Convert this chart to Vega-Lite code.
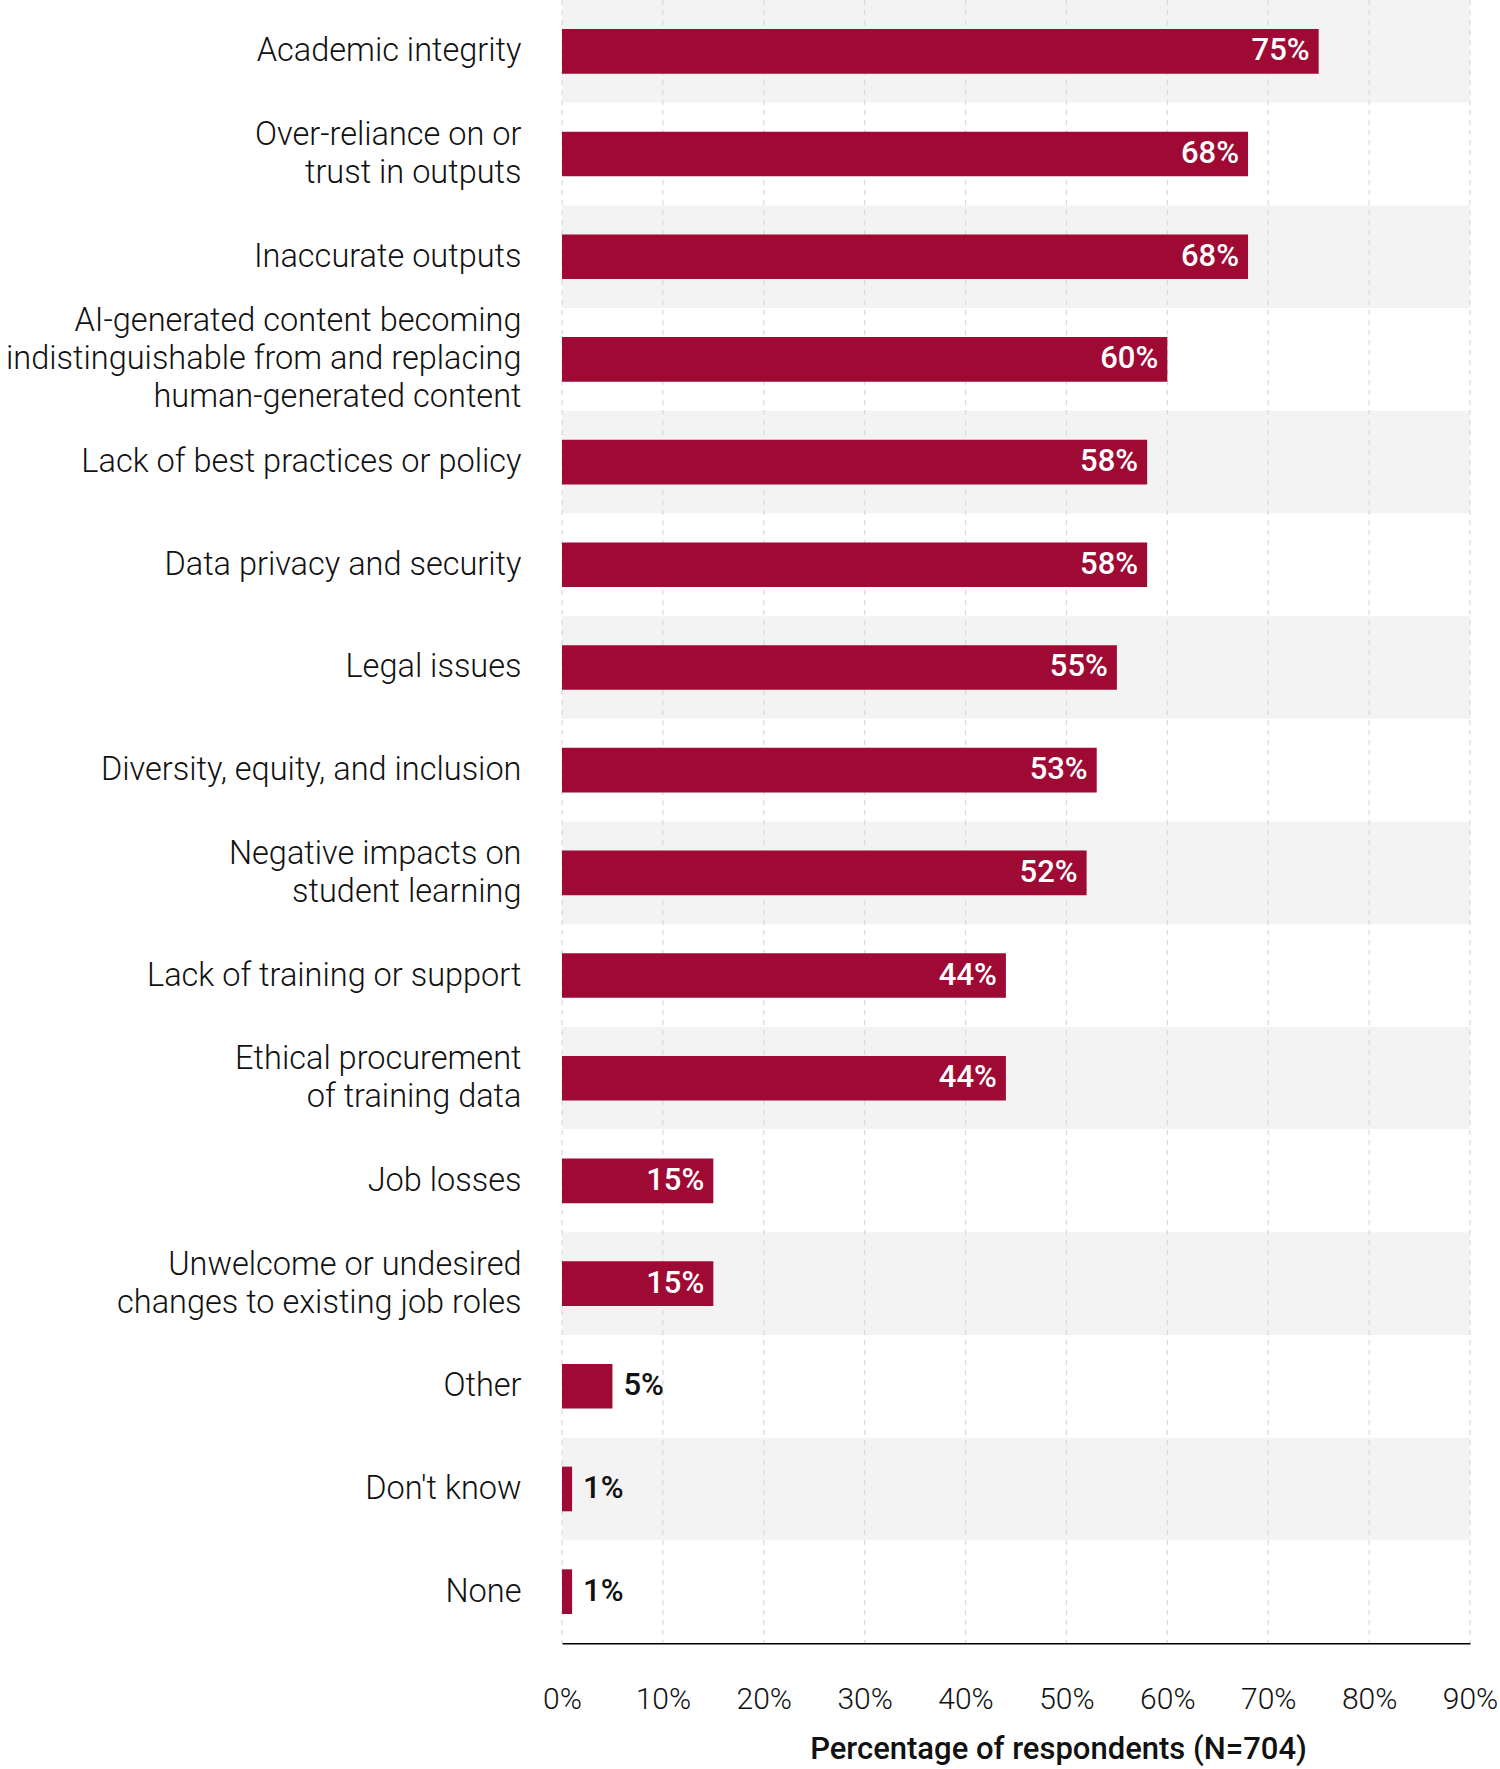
{
  "$schema": "https://vega.github.io/schema/vega-lite/v6.json",
  "autosize": {"type": "none"},
  "padding": {"left": 562, "top": 0, "right": 30, "bottom": 126},
  "width": 908,
  "height": 1643,
  "background": "white",
  "config": {"view": {"stroke": null}, "font": "Roboto"},
  "datasets": {
    "concerns": [
      {"concern": "Academic integrity", "pct": 75},
      {"concern": "Over-reliance on or|trust in outputs", "pct": 68},
      {"concern": "Inaccurate outputs", "pct": 68},
      {"concern": "AI-generated content becoming|indistinguishable from and replacing|human-generated content", "pct": 60},
      {"concern": "Lack of best practices or policy", "pct": 58},
      {"concern": "Data privacy and security", "pct": 58},
      {"concern": "Legal issues", "pct": 55},
      {"concern": "Diversity, equity, and inclusion", "pct": 53},
      {"concern": "Negative impacts on|student learning", "pct": 52},
      {"concern": "Lack of training or support", "pct": 44},
      {"concern": "Ethical procurement|of training data", "pct": 44},
      {"concern": "Job losses", "pct": 15},
      {"concern": "Unwelcome or undesired|changes to existing job roles", "pct": 15},
      {"concern": "Other", "pct": 5},
      {"concern": "Don't know", "pct": 1},
      {"concern": "None", "pct": 1}
    ],
    "ticks": [
      {"t": 0}, {"t": 10}, {"t": 20}, {"t": 30}, {"t": 40},
      {"t": 50}, {"t": 60}, {"t": 70}, {"t": 80}, {"t": 90}
    ]
  },
  "layer": [
    {
      "data": {"name": "concerns"},
      "transform": [{"window": [{"op": "row_number", "as": "rank"}]}],
      "mark": {"type": "bar", "height": {"band": 1}},
      "encoding": {
        "y": {
          "field": "concern", "type": "nominal", "sort": null,
          "scale": {"paddingInner": 0, "paddingOuter": 0},
          "axis": {
            "title": null, "domain": false, "ticks": false, "grid": false,
            "labelExpr": "split(datum.value, '|')",
            "labelFont": "Roboto", "labelFontSize": 32.5, "labelFontWeight": 300,
            "labelColor": "#111111", "labelPadding": 41, "labelLimit": 600,
            "labelLineHeight": 38,
            "labelOffset": {
              "condition": [
                {"test": "length(split(datum.value, '|')) == 3", "value": -38},
                {"test": "length(split(datum.value, '|')) == 2", "value": -19}
              ],
              "value": 0
            }
          }
        },
        "x": {"datum": 0, "type": "quantitative"},
        "x2": {"datum": 90},
        "fill": {
          "condition": {"test": "datum.rank % 2 == 1", "value": "#f3f3f3"},
          "value": "#ffffff"
        }
      }
    },
    {
      "data": {"name": "ticks"},
      "mark": {"type": "rule", "color": "#d9d9d9", "strokeWidth": 1.2, "strokeDash": [5, 5]},
      "encoding": {
        "x": {"field": "t", "type": "quantitative"}
      }
    },
    {
      "data": {"name": "concerns"},
      "mark": {"type": "bar", "height": {"band": 0.435}, "color": "#9e0a33"},
      "encoding": {
        "y": {"field": "concern", "type": "nominal", "sort": null},
        "x": {
          "field": "pct", "type": "quantitative",
          "scale": {"domain": [0, 90], "nice": false, "zero": true},
          "axis": {
            "title": "Percentage of respondents (N=704)",
            "values": [0, 10, 20, 30, 40, 50, 60, 70, 80, 90],
            "labelExpr": "datum.value + '%'",
            "grid": false, "ticks": false,
            "domain": true, "domainColor": "#000000", "domainWidth": 2,
            "labelFont": "Roboto", "labelFontSize": 30, "labelFontWeight": 300,
            "labelColor": "#111111", "labelPadding": 41, "labelFlush": false,
            "labelOverlap": false,
            "titleFont": "Roboto", "titleFontSize": 31, "titleFontWeight": 500,
            "titleColor": "#111111", "titlePadding": 20, "titleX": 496
          }
        }
      }
    },
    {
      "data": {"name": "concerns"},
      "transform": [
        {"filter": "datum.pct >= 10"},
        {"calculate": "datum.pct + '%'", "as": "label"}
      ],
      "mark": {"type": "text", "align": "right", "baseline": "middle", "dx": -9, "color": "#ffffff", "font": "Roboto", "fontSize": 31, "fontWeight": 500},
      "encoding": {
        "y": {"field": "concern", "type": "nominal", "sort": null},
        "x": {"field": "pct", "type": "quantitative"},
        "text": {"field": "label", "type": "nominal"}
      }
    },
    {
      "data": {"name": "concerns"},
      "transform": [
        {"filter": "datum.pct < 10"},
        {"calculate": "datum.pct + '%'", "as": "label"}
      ],
      "mark": {"type": "text", "align": "left", "baseline": "middle", "dx": 11, "color": "#111111", "font": "Roboto", "fontSize": 31, "fontWeight": 500},
      "encoding": {
        "y": {"field": "concern", "type": "nominal", "sort": null},
        "x": {"field": "pct", "type": "quantitative"},
        "text": {"field": "label", "type": "nominal"}
      }
    }
  ]
}
